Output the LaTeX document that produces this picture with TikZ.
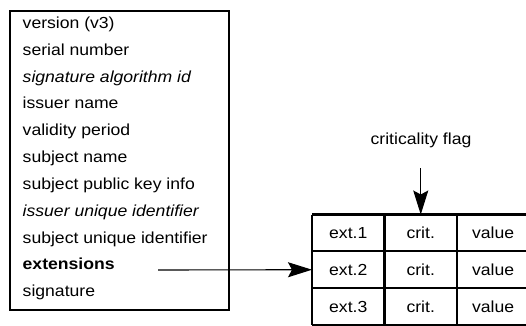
\documentclass[tikz,border=0pt]{standalone}
\usepackage{fontspec}
\setmainfont[FakeStretch=1.1]{Liberation Sans}
\usetikzlibrary{arrows.meta}
\begin{document}
\begin{tikzpicture}[x=1pt,y=-1pt,
  txt/.style={font=\fontsize{16}{19}\selectfont},
  field/.style={txt,anchor=base west,inner sep=0pt},
  cell/.style={txt,outer sep=0pt,minimum width=72.5pt,minimum height=36.8pt,inner sep=0pt},
  lastcell/.style={cell,minimum width=90pt,text width=90pt,align=left},
  rule/.style={line width=2.2pt},
  lbl/.style={txt,inner sep=0pt},
  pointer/.style={line width=1.1pt,-{Stealth[length=24pt,width=15pt,inset=4pt]}}]
\useasboundingbox (0,0) rectangle (526,325);
\clip (0,0) rectangle (526,325);
% certificate box
\node[draw,line width=2pt,outer sep=0pt,minimum width=219pt,minimum height=298.5pt,inner sep=0pt,anchor=north west] (cert) at (10,11) {};
\node[field] (l1) at (22.5,28.3) {version (v3)};
\node[field] (l2) at (22.5,55.1) {serial number};
\node[field] (l3) at (22.5,82.0) {\itshape signature algorithm id};
\node[field] (l4) at (22.5,108.8) {issuer name};
\node[field] (l5) at (22.5,135.7) {validity period};
\node[field] (l6) at (22.5,162.5) {subject name};
\node[field] (l7) at (22.5,189.3) {subject public key info};
\node[field] (l8) at (22.5,216.2) {\itshape issuer unique identifier};
\node[field] (l9) at (22.5,243.0) {subject unique identifier};
\node[field] (l10) at (22.5,269.9) {\bfseries extensions};
\node[field] (l11) at (22.5,296.7) {signature};
% extensions table cells
\node[cell,anchor=north west] (e1) at (312,214.5) {ext.1};
\node[cell,anchor=north west] (c1) at (384.5,214.5) {crit.};
\node[lastcell,anchor=north west] (v1) at (457,214.5) {\hspace*{15pt}value};
\node[cell,anchor=north] (e2) at (e1.south) {ext.2};
\node[cell,anchor=north] (c2) at (c1.south) {crit.};
\node[lastcell,anchor=north] (v2) at (v1.south) {\hspace*{15pt}value};
\node[cell,anchor=north] (e3) at (e2.south) {ext.3};
\node[cell,anchor=north] (c3) at (c2.south) {crit.};
\node[lastcell,anchor=north] (v3) at (v2.south) {\hspace*{15pt}value};
% table rules (right side runs off the page)
\draw[rule] (e1.north west) -- (v1.north east);
\draw[rule] (e2.north west) -- (v2.north east);
\draw[rule] (e3.north west) -- (v3.north east);
\draw[rule] (e3.south west) -- (v3.south east);
\draw[rule] (e1.north west) -- (e3.south west);
\draw[rule] (c1.north west) -- (c3.south west);
\draw[rule] (v1.north west) -- (v3.south west);
% criticality flag
\node[lbl,anchor=base] (flag) at (421,144.3) {criticality flag};
\coordinate (ftop) at (c1.north |- 0,168);
\draw[pointer] (ftop) -- (c1.north);
% extensions pointer
\coordinate (xs) at (158,270);
\draw[pointer] (xs) -- (e2.west);
\end{tikzpicture}
\end{document}
